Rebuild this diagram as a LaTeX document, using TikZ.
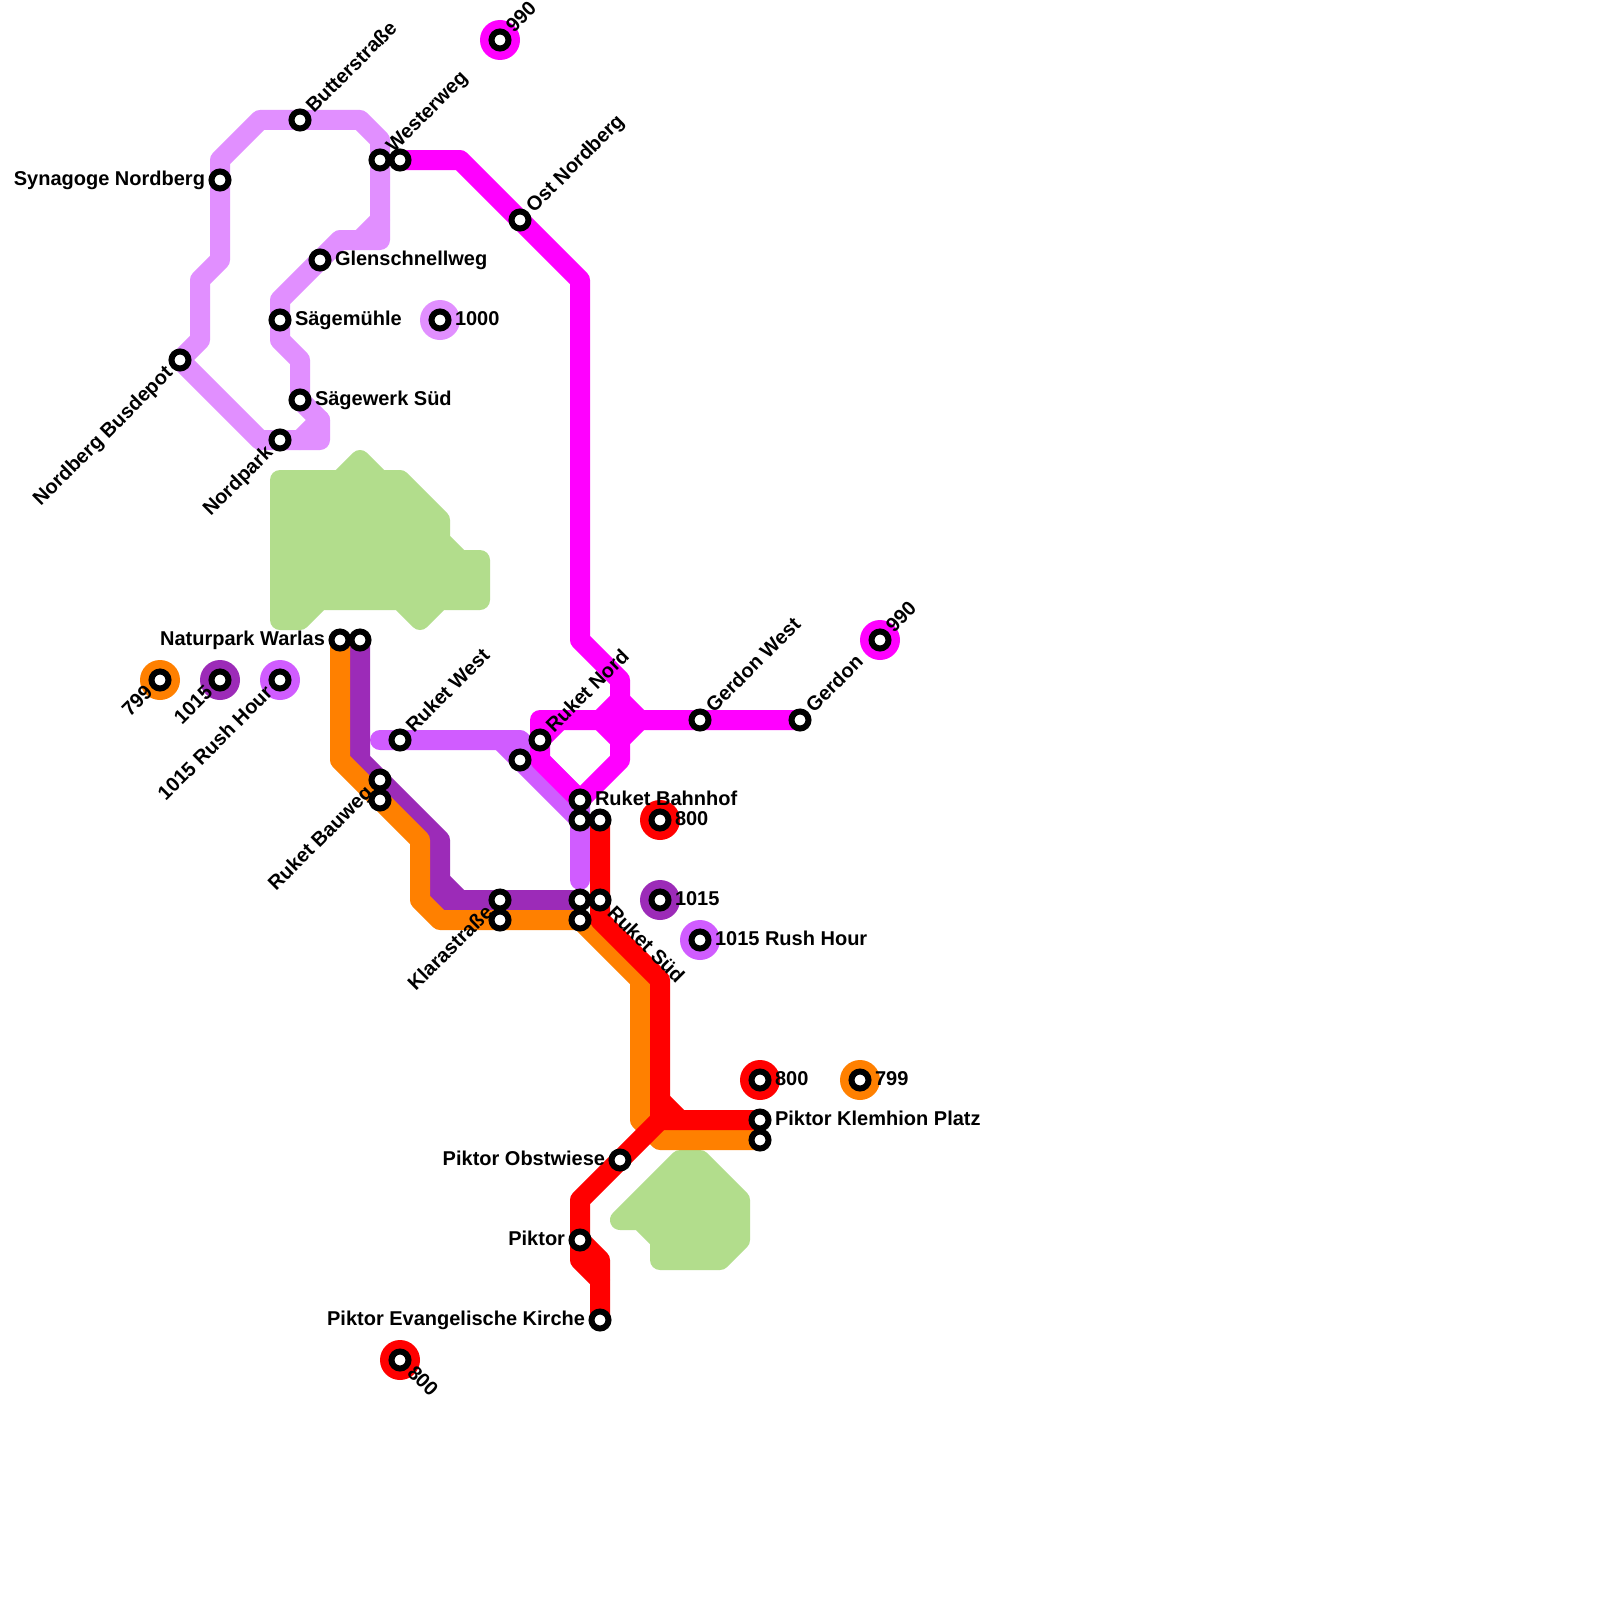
\documentclass[tikz,border=0pt]{standalone}
\usepackage{fontspec}
\setmainfont{Liberation Sans}
\pgfdeclarelayer{bg}
\pgfsetlayers{bg,main}
\definecolor{pale}{HTML}{E18FFF}
\definecolor{mag}{HTML}{FF00FF}
\definecolor{med}{HTML}{D05CFF}
\definecolor{dark}{HTML}{9C2BB8}
\definecolor{orng}{HTML}{FF8000}
\definecolor{rd}{HTML}{FF0000}
\definecolor{park}{HTML}{B2DD8C}
\tikzset{
  x=0.5pt,y=-0.5pt,
  stn/.style={circle,draw=black,fill=white,line width=3pt,minimum size=8.5pt,inner sep=0pt,outer sep=0pt},
  ring/.style={circle,fill=#1,minimum size=20pt,inner sep=0pt,outer sep=0pt},
  metro/.style={draw=#1,line width=10pt,line join=round,line cap=round},
  parkarea/.style={draw=park,fill=park,line width=10pt,line join=round},
  lab/.style={font=\fontsize{10pt}{12pt}\selectfont\bfseries,inner sep=0pt,outer sep=0pt,text=black},
  E/.style={lab,anchor=base west,xshift=7.5pt,yshift=-2.8pt},
  W/.style={lab,anchor=base east,xshift=-7.5pt,yshift=-2.8pt},
  NE/.style={lab,anchor=base west,rotate=45,xshift=7.2pt,yshift=-2.7pt},
  SW/.style={lab,anchor=base east,rotate=45,xshift=-7.2pt,yshift=-2.7pt},
  SE/.style={lab,anchor=base west,rotate=-45,xshift=7.2pt,yshift=-2.7pt},
}
\begin{document}
\begin{tikzpicture}
\path[use as bounding box] (0,0) rectangle (1600,1600);
% single-station rings
\node[ring=mag]  (r990a) at (500,40) {};
\node[ring=pale] (r1000) at (440,320) {};
\node[ring=orng] (r799a) at (160,680) {};
\node[ring=dark] (r1015a) at (220,680) {};
\node[ring=med]  (r1015ra) at (280,680) {};
\node[ring=mag]  (r990b) at (880,640) {};
\node[ring=rd]   (r800a) at (660,820) {};
\node[ring=dark] (r1015b) at (660,900) {};
\node[ring=med]  (r1015rb) at (700,940) {};
\node[ring=rd]   (r800b) at (760,1080) {};
\node[ring=orng] (r799b) at (860,1080) {};
\node[ring=rd]   (r800c) at (400,1360) {};
% stations
\foreach \n/\x/\y in {
 s990a/500/40, s1000/440/320, s799a/160/680, s1015a/220/680, s1015ra/280/680,
 s990b/880/640, s800a/660/820, s1015b/660/900, s1015rb/700/940, s800b/760/1080,
 s799b/860/1080, s800c/400/1360,
 butter/300/120, synagoge/220/180, westP/380/160, westM/400/160, glen/320/260,
 saegem/280/320, saegew/300/400, nordpark/280/440, busdepot/180/360, ost/520/220,
 warO/340/640, warD/360/640, rwest/400/740, rnordM/520/760, rnord/540/740,
 gerdonw/700/720, gerdon/800/720, bahnA/580/800, bahnB/580/820, bahnC/600/820,
 bauD/380/780, bauO/380/800, klaD/500/900, klaO/500/920, suedD/580/900, suedO/580/920,
 suedR/600/900, klemR/760/1120, klemO/760/1140, obst/620/1160, piktor/580/1240, kirche/600/1320}
 {\node[stn] (\n) at (\x,\y) {};}
% labels
\node[E] (l1) at (s1000) {1000};
\node[E] (l2) at (glen) {Glenschnellweg};
\node[E] (l3) at (saegem) {Sägemühle};
\node[E] (l4) at (saegew) {Sägewerk Süd};
\node[E] (l5) at (bahnA) {Ruket Bahnhof};
\node[E] (l6) at (s800a) {800};
\node[E] (l7) at (s1015b) {1015};
\node[E] (l8) at (s1015rb) {1015 Rush Hour};
\node[E] (l9) at (s800b) {800};
\node[E] (l10) at (s799b) {799};
\node[E] (l11) at (klemR) {Piktor Klemhion Platz};
\node[W] (l12) at (synagoge) {Synagoge Nordberg};
\node[W] (l13) at (warO) {Naturpark Warlas};
\node[W] (l14) at (obst) {Piktor Obstwiese};
\node[W] (l15) at (piktor) {Piktor};
\node[W] (l16) at (kirche) {Piktor Evangelische Kirche};
\node[NE] (l17) at (butter) {Butterstraße};
\node[NE] (l18) at (westP) {Westerweg};
\node[NE] (l19) at (s990a) {990};
\node[NE] (l20) at (ost) {Ost Nordberg};
\node[NE] (l21) at (rwest) {Ruket West};
\node[NE] (l22) at (rnord) {Ruket Nord};
\node[NE] (l23) at (gerdonw) {Gerdon West};
\node[NE] (l24) at (gerdon) {Gerdon};
\node[NE] (l25) at (s990b) {990};
\node[SW] (l26) at (busdepot) {Nordberg Busdepot};
\node[SW] (l27) at (nordpark) {Nordpark};
\node[SW] (l28) at (s799a) {799};
\node[SW] (l29) at (s1015a) {1015};
\node[SW] (l30) at (s1015ra) {1015 Rush Hour};
\node[SW] (l31) at (bauD) {Ruket Bauweg};
\node[SW] (l32) at (klaD) {Klarastraße};
\node[SE] (l33) at (suedR) {Ruket Süd};
\node[SE] (l34) at (s800c) {800};
\begin{pgfonlayer}{bg}
\fill[white] (0,0) rectangle (1600,1600);
% parks
\path[parkarea] (280,480) -- (340,480) -- (360,460) -- (380,480) -- (400,480) -- (440,520) -- (440,540) -- (460,560) -- (480,560) -- (480,600) -- (440,600) -- (420,620) -- (400,600) -- (320,600) -- (300,620) -- (280,620) -- cycle;
\path[parkarea] (680,1160) -- (700,1160) -- (740,1200) -- (740,1240) -- (720,1260) -- (660,1260) -- (660,1240) -- (640,1220) -- (620,1220) -- cycle;
% pale purple line
\path[metro=pale] (busdepot.center) -- (200,340) -- (200,280) -- (220,260) -- (synagoge.center) -- (220,160) -- (260,120) -- (butter.center) -- (360,120) -- (380,140) -- (westP.center) -- (380,240) -- (340,240) -- (glen.center) -- (280,300) -- (saegem.center) -- (280,340) -- (300,360) -- (saegew.center) -- (320,420) -- (320,440) -- (nordpark.center) -- (260,440) -- (busdepot.center);
\path[metro=pale] (380,220) -- (360,240);
\path[metro=pale] (320,420) -- (300,440);
% medium purple line
\path[metro=med] (380,740) -- (rwest.center) -- (520,740) -- (bahnA.center) -- (bahnB.center) -- (580,880);
\path[metro=med] (500,740) -- (rnordM.center) -- (bahnB.center);
\fill[med] (510,740) -- (530,740) -- (580,800) -- (580,820) -- cycle;
% magenta line
\path[metro=mag] (westM.center) -- (460,160) -- (ost.center) -- (580,280) -- (580,640) -- (620,680) -- (620,760) -- (bahnA.center) -- (540,760) -- (rnord.center) -- (540,720) -- (gerdonw.center) -- (gerdon.center);
\path[metro=mag] (600,720) -- (620,700) -- (640,720) -- (620,740) -- cycle;
\path[metro=mag] (rnord.center) -- (560,720);
% dark purple line
\path[metro=dark] (warD.center) -- (360,760) -- (bauD.center) -- (440,840) -- (440,900) -- (klaD.center) -- (suedD.center);
\path[metro=dark] (440,880) -- (460,900);
% orange line
\path[metro=orng] (warO.center) -- (340,760) -- (bauO.center) -- (420,840) -- (420,900) -- (440,920) -- (klaO.center) -- (suedO.center) -- (640,980) -- (640,1120) -- (660,1140) -- (klemO.center);
% red line
\path[metro=rd] (bahnC.center) -- (suedR.center) -- (600,920) -- (660,980) -- (660,1120) -- (klemR.center);
\path[metro=rd] (660,1100) -- (680,1120);
\path[metro=rd] (660,1120) -- (obst.center) -- (580,1200) -- (piktor.center) -- (580,1260) -- (600,1280) -- (kirche.center);
\path[metro=rd] (piktor.center) -- (600,1260) -- (600,1280);
\end{pgfonlayer}
\end{tikzpicture}
\end{document}
